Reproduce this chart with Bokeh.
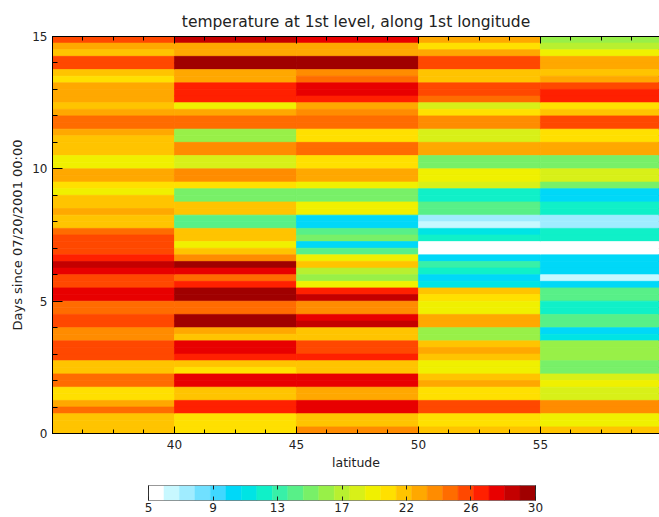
import numpy as np
from bokeh.plotting import figure
from bokeh.layouts import column
from bokeh.models import (Range1d, SingleIntervalTicker, FixedTicker, LinearAxis,
                          ColumnDataSource)
from bokeh.transform import linear_cmap
from bokeh.embed import file_html
from bokeh.resources import INLINE

# ---------------- data ----------------
latitudes = [37.5, 42.5, 47.5, 52.5, 57.5]      # cell centres (deg N), 5 deg wide
lat_width = 5.0
row_height = 0.25                               # 6-hourly rows (days)
lat_major_ticks = [40, 45, 50, 55]
lat_minor_step = 1.25

# temperature, rows listed from day 15 (top) down to day 0 (bottom)
temp_lat37 = [25.2, 22.5, 21.8, 25.5, 25.5, 21.5, 20.8, 22.5, 22.5, 22.0,
              21.5, 22.5, 24.5, 24.5, 22.5, 21.5, 21.5, 21.5, 19.5, 19.5,
              22.5, 22.5, 20.0, 19.8, 21.5, 21.5, 22.5, 21.5, 21.5, 24.5,
              25.5, 25.5, 25.5, 26.5, 28.5, 27.5, 25.0, 25.0, 27.0, 27.0,
              24.5, 24.5, 25.8, 25.8, 23.0, 23.0, 25.5, 25.5, 25.5, 21.5,
              21.5, 24.5, 24.5, 20.0, 20.0, 22.5, 24.5, 21.5, 21.5, 21.5]
temp_lat42 = [28.0, 22.5, 22.5, 29.5, 29.5, 22.5, 22.5, 26.5, 26.5, 26.0,
              19.5, 22.0, 24.5, 24.5, 16.5, 16.5, 23.0, 23.0, 18.0, 18.0,
              23.5, 23.5, 20.0, 15.5, 15.5, 21.5, 21.5, 14.0, 14.0, 21.5,
              21.5, 19.8, 21.0, 23.5, 29.5, 27.0, 24.5, 26.5, 29.8, 29.8,
              24.5, 24.5, 29.0, 29.0, 22.5, 21.5, 27.0, 27.0, 26.0, 21.5,
              20.0, 27.0, 27.0, 21.5, 21.5, 26.5, 26.5, 20.0, 20.0, 20.5]
temp_lat47 = [27.5, 22.5, 22.0, 29.5, 29.5, 23.5, 24.5, 27.5, 27.5, 26.0,
              22.5, 23.0, 24.3, 24.3, 20.5, 20.5, 24.5, 24.5, 20.0, 20.0,
              22.5, 22.5, 19.0, 15.0, 15.0, 19.5, 19.5, 10.5, 10.5, 14.0,
              15.5, 10.5, 14.0, 19.5, 21.5, 17.0, 16.5, 19.5, 26.0, 28.5,
              23.0, 23.0, 27.5, 28.5, 21.5, 21.5, 25.5, 25.5, 26.5, 21.5,
              21.5, 27.0, 27.3, 22.5, 22.5, 27.0, 27.0, 21.5, 21.5, 23.0]
temp_lat52 = [22.5, 20.0, 22.0, 25.5, 25.5, 21.5, 21.5, 25.5, 25.5, 24.0,
              18.5, 20.5, 23.5, 23.5, 18.0, 18.0, 22.0, 22.0, 15.5, 15.5,
              19.5, 19.5, 18.0, 12.5, 12.5, 14.5, 14.5, 7.5, 6.5, 11.5,
              12.5, 5.5, 5.5, 10.5, 13.5, 12.0, 10.5, 11.5, 21.5, 20.0,
              19.5, 19.5, 22.5, 22.5, 16.5, 16.5, 21.5, 22.5, 21.0, 19.5,
              19.5, 21.5, 22.5, 20.0, 20.0, 25.8, 25.8, 20.5, 20.5, 21.0]
temp_lat57 = [16.5, 17.5, 19.5, 22.5, 22.0, 21.5, 22.8, 25.5, 26.5, 26.0,
              20.8, 21.5, 25.3, 25.3, 20.0, 20.0, 22.0, 22.0, 15.5, 15.5,
              18.5, 18.5, 15.0, 10.5, 10.5, 12.5, 12.5, 7.5, 7.5, 12.5,
              12.5, 5.5, 5.5, 10.0, 10.3, 10.0, 6.5, 10.5, 14.5, 14.5,
              12.5, 12.5, 14.5, 14.5, 10.8, 11.0, 16.5, 16.5, 16.8, 15.8,
              15.8, 18.5, 19.5, 18.0, 18.0, 23.5, 23.5, 19.8, 19.8, 21.0]

# colour levels 5..30, one colour per degree
levels = list(range(5, 31))
palette = ["#ffffff", "#c8f8ff", "#a0ecff", "#70e0ff", "#40d8ff",
           "#00d8f8", "#00e4e4", "#10f0c8", "#38f0a8", "#58f088",
           "#78f068", "#98f048", "#b8f030", "#d8f018", "#f0f000",
           "#ffe000", "#ffc400", "#ffa800", "#ff8c00", "#ff6c00",
           "#ff4800", "#ff2000", "#e80000", "#c40000", "#a00000"]
cbar_tick_values = [5, 9.1667, 13.3333, 17.5, 21.6667, 25.8333, 30]
cbar_tick_labels = ["5", "9", "13", "17", "22", "26", "30"]

# ---------------- build source ----------------
columns = [temp_lat37, temp_lat42, temp_lat47, temp_lat52, temp_lat57]
n_rows = len(temp_lat37)
days = 15 - row_height * (np.arange(n_rows) + 0.5)
xs, ys, ts = [], [], []
for lat, col in zip(latitudes, columns):
    xs.extend([lat] * n_rows)
    ys.extend(days.tolist())
    ts.extend(col)
src = ColumnDataSource(dict(lat=xs, day=ys, temp=ts))
cmap = linear_cmap("temp", palette, levels[0], levels[-1])

FONT = "DejaVu Sans"
TXT = "#222222"

x_lo, x_hi = 35, 59.88
p = figure(width=659, height=475, x_range=Range1d(x_lo, x_hi), y_range=Range1d(0, 15),
           output_backend="svg", toolbar_location=None,
           min_border_left=52, min_border_right=0, min_border_top=36, min_border_bottom=42,
           title="temperature at 1st level, along 1st longitude",
           x_axis_label="latitude", y_axis_label="Days since 07/20/2001 00:00")
p.rect(x="lat", y="day", width=lat_width, height=row_height, source=src,
       fill_color=cmap, line_color=cmap, line_width=0.7)

p.title.align = "center"
p.title.vertical_align = "middle"
p.title.text_font = FONT
p.title.text_font_style = "normal"
p.title.text_font_size = "15.5px"
p.title.text_color = TXT

p.grid.visible = False
p.outline_line_color = "black"
p.background_fill_color = "white"
p.border_fill_color = "white"

lat_minor = list(np.arange(x_lo, x_hi, lat_minor_step))
p.xaxis.ticker = FixedTicker(ticks=lat_major_ticks, minor_ticks=lat_minor)
p.yaxis.ticker = SingleIntervalTicker(interval=5, num_minor_ticks=5)
for ax in (p.xaxis[0], p.yaxis[0]):
    ax.major_tick_out = 0
    ax.minor_tick_out = 0
    ax.major_label_text_font = FONT
    ax.major_label_text_font_size = "12px"
    ax.major_label_text_color = TXT
    ax.axis_label_text_font = FONT
    ax.axis_label_text_font_style = "normal"
    ax.axis_label_text_color = TXT
    ax.axis_line_color = "black"
p.xaxis.axis_label_text_font_size = "12.5px"
p.yaxis.axis_label_text_font_size = "13px"
p.xaxis.major_tick_in = 7
p.xaxis.minor_tick_in = 4
p.yaxis.major_tick_in = 10
p.yaxis.minor_tick_in = 5
p.xaxis.major_label_standoff = 6
p.xaxis.axis_label_standoff = 3
p.yaxis.major_label_standoff = 5
p.yaxis.axis_label_standoff = 4

top_axis = LinearAxis(ticker=FixedTicker(ticks=lat_major_ticks, minor_ticks=lat_minor),
                      major_label_text_color=None, major_label_text_font_size="1px",
                      major_tick_in=7, major_tick_out=0,
                      minor_tick_in=4, minor_tick_out=0, axis_line_color="black")
p.add_layout(top_axis, "above")

# ---------------- colour bar (same frame width as main plot) ----------------
bar_px = 387.0                       # colour bar length in pixels
frame_px = 659 - 52                  # frame width of both figures
px_per_unit = bar_px / (levels[-1] - levels[0])
cb_left = levels[0] - (148 - 52) / px_per_unit
cb_right = cb_left + frame_px / px_per_unit

p2 = figure(width=659, height=42, x_range=Range1d(cb_left, cb_right), y_range=Range1d(0, 1),
            output_backend="svg", toolbar_location=None,
            min_border_left=52, min_border_right=0, min_border_top=10, min_border_bottom=17)
p2.quad(left=levels[:-1], right=levels[1:], bottom=0, top=1,
        fill_color=palette, line_color=palette, line_width=0.5)
p2.quad(left=[levels[0]], right=[levels[-1]], bottom=[0], top=[1],
        fill_color=None, line_color="#333333", line_width=1)
p2.grid.visible = False
p2.yaxis.visible = False
p2.outline_line_color = None
p2.border_fill_color = "white"
p2.xaxis.ticker = FixedTicker(ticks=cbar_tick_values)
p2.xaxis.major_label_overrides = {v: l for v, l in zip(cbar_tick_values, cbar_tick_labels)}
p2.xaxis.major_tick_in = 4
p2.xaxis.major_tick_out = 0
p2.xaxis.major_tick_line_color = "#222222"
p2.xaxis.minor_tick_line_color = None
p2.xaxis.axis_line_color = None
p2.xaxis.major_label_standoff = 2
p2.xaxis.major_label_text_font = FONT
p2.xaxis.major_label_text_font_size = "12px"
p2.xaxis.major_label_text_color = TXT
cb_top = LinearAxis(ticker=FixedTicker(ticks=cbar_tick_values),
                    major_label_text_color=None, major_label_text_font_size="1px",
                    major_tick_in=4, major_tick_out=0, axis_line_color=None,
                    minor_tick_line_color=None, major_tick_line_color="#222222")
p2.add_layout(cb_top, "above")

layout = column(p, p2, spacing=0)
open("out.html", "w").write(file_html(layout, INLINE))
